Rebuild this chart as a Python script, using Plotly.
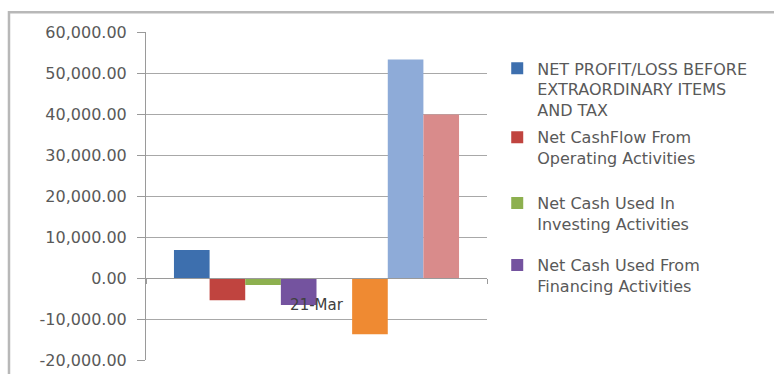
import plotly.graph_objects as go

# Cash-flow summary for the period, one bar per line item
period = ["21-Mar"]
series_names = [
    "NET PROFIT/LOSS BEFORE<br>EXTRAORDINARY ITEMS<br>AND TAX",
    "Net CashFlow From<br>Operating Activities",
    "Net Cash Used In<br>Investing Activities",
    "Net Cash Used From<br>Financing Activities",
    "Effect Of Exchange Rate Changes",
    "Net Inc/Dec In Cash And Cash Equivalents",
    "Cash And Cash Equivalents Begin Of Year",
    "Cash And Cash Equivalents End Of Year",
]
values = [6800, -5400, -1700, -6600, 0, -13700, 53300, 39900]
colors = ["#3d6fae", "#c0443f", "#8db04f", "#74539f",
          "#4bacc6", "#ef8a32", "#8eabd8", "#d98b8b"]
# legend slot for each series (None = not listed)
legend_ids = ["legend", "legend2", "legend3", "legend4", None, None, None, None]

y_ticks = [-20000, -10000, 0, 10000, 20000, 30000, 40000, 50000, 60000]
y_tick_labels = [f"{v:,.2f}" for v in y_ticks]

FONT = "DejaVu Sans"
TEXT_GREY = "#595959"
AXIS_GREY = "#9a9a9a"

fig = go.Figure()
for name, val, col, leg in zip(series_names, values, colors, legend_ids):
    fig.add_trace(go.Bar(
        x=period, y=[val], name=name, marker_color=col,
        marker_line_width=0, showlegend=leg is not None,
        legend=leg or "legend",
    ))

legend_style = dict(
    x=1.03, xanchor="left", yanchor="top", valign="top",
    font=dict(family=FONT, size=16, color=TEXT_GREY),
    bgcolor="rgba(0,0,0,0)",
)

fig.update_layout(
    width=774, height=374,
    margin=dict(l=146, r=287, t=32, b=14),
    paper_bgcolor="white", plot_bgcolor="white",
    barmode="group", bargap=0.164, bargroupgap=0,
    font=dict(family=FONT, size=15, color=TEXT_GREY),
    xaxis=dict(
        type="category", anchor="free", position=0.25, automargin=False,
        showline=True, linecolor=AXIS_GREY, linewidth=1,
        ticks="outside", tickson="boundaries", ticklen=5, tickcolor=AXIS_GREY,
        showgrid=False, zeroline=False,
        ticklabelstandoff=13,
        tickfont=dict(family=FONT, size=15, color="#404040"),
    ),
    yaxis=dict(
        range=[-20000, 60000], tickvals=y_ticks, ticktext=y_tick_labels,
        automargin=False,
        showline=True, linecolor=AXIS_GREY, linewidth=1,
        ticks="outside", ticklen=8, tickcolor=AXIS_GREY,
        ticklabelstandoff=7,
        gridcolor="#a8a8a8", gridwidth=1, zeroline=False,
        tickfont=dict(family=FONT, size=16, color=TEXT_GREY),
    ),
    legend=dict(legend_style, y=0.941),
    legend2=dict(legend_style, y=0.731),
    legend3=dict(legend_style, y=0.530),
    legend4=dict(legend_style, y=0.341),
    shapes=[
        # chart-area frame (left and top edges visible)
        dict(type="rect", xref="paper", yref="paper",
             x0=-0.4018, x1=1.9, y0=-0.2, y1=1.06,
             line=dict(color="#b8b8b8", width=2.5), layer="below"),
    ],
)

fig.write_html("out.html")
